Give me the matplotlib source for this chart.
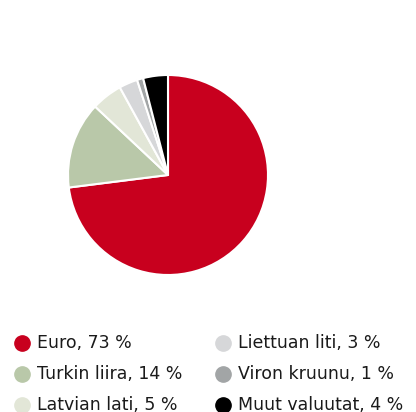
import matplotlib.pyplot as plt
from matplotlib.lines import Line2D

labels = ['Euro', 'Turkin liira', 'Latvian lati', 'Liettuan liti', 'Viron kruunu', 'Muut valuutat']
shares = [73, 14, 5, 3, 1, 4]
colors = ['#C8001E', '#B9C8A9', '#E2E6D7', '#D6D7D9', '#A2A5A6', '#000000']

W, H = 416, 412
fig = plt.figure(figsize=(W / 100, H / 100), dpi=100)

# pie: center ~ (168, 175) px, radius ~100 px
cx, cy, r = 168, 175, 100
ax = fig.add_axes([(cx - r) / W, 1 - (cy + r) / H, 2 * r / W, 2 * r / H])
ax.pie(shares, colors=colors, startangle=90, counterclock=False,
       wedgeprops=dict(edgecolor='white', linewidth=1.5))
ax.set_xlim(-1, 1)
ax.set_ylim(-1, 1)
ax.set_aspect('equal')
ax.axis('off')

# legend, two columns of three
col_x = [22, 223]
row_y = [343, 374, 405]
for i, (lab, val, c) in enumerate(zip(labels, shares, colors)):
    x = col_x[i // 3]
    y = row_y[i % 3]
    fig.add_artist(Line2D([x / W], [1 - y / H], marker='o', markersize=11,
                          color=c, linestyle='none', transform=fig.transFigure))
    fig.text((x + 15) / W, 1 - y / H, f'{lab}, {val} %', fontsize=12.5,
             color='#1a1a1a', va='center', ha='left', family='DejaVu Sans')

fig.savefig('out.png', dpi=100)
